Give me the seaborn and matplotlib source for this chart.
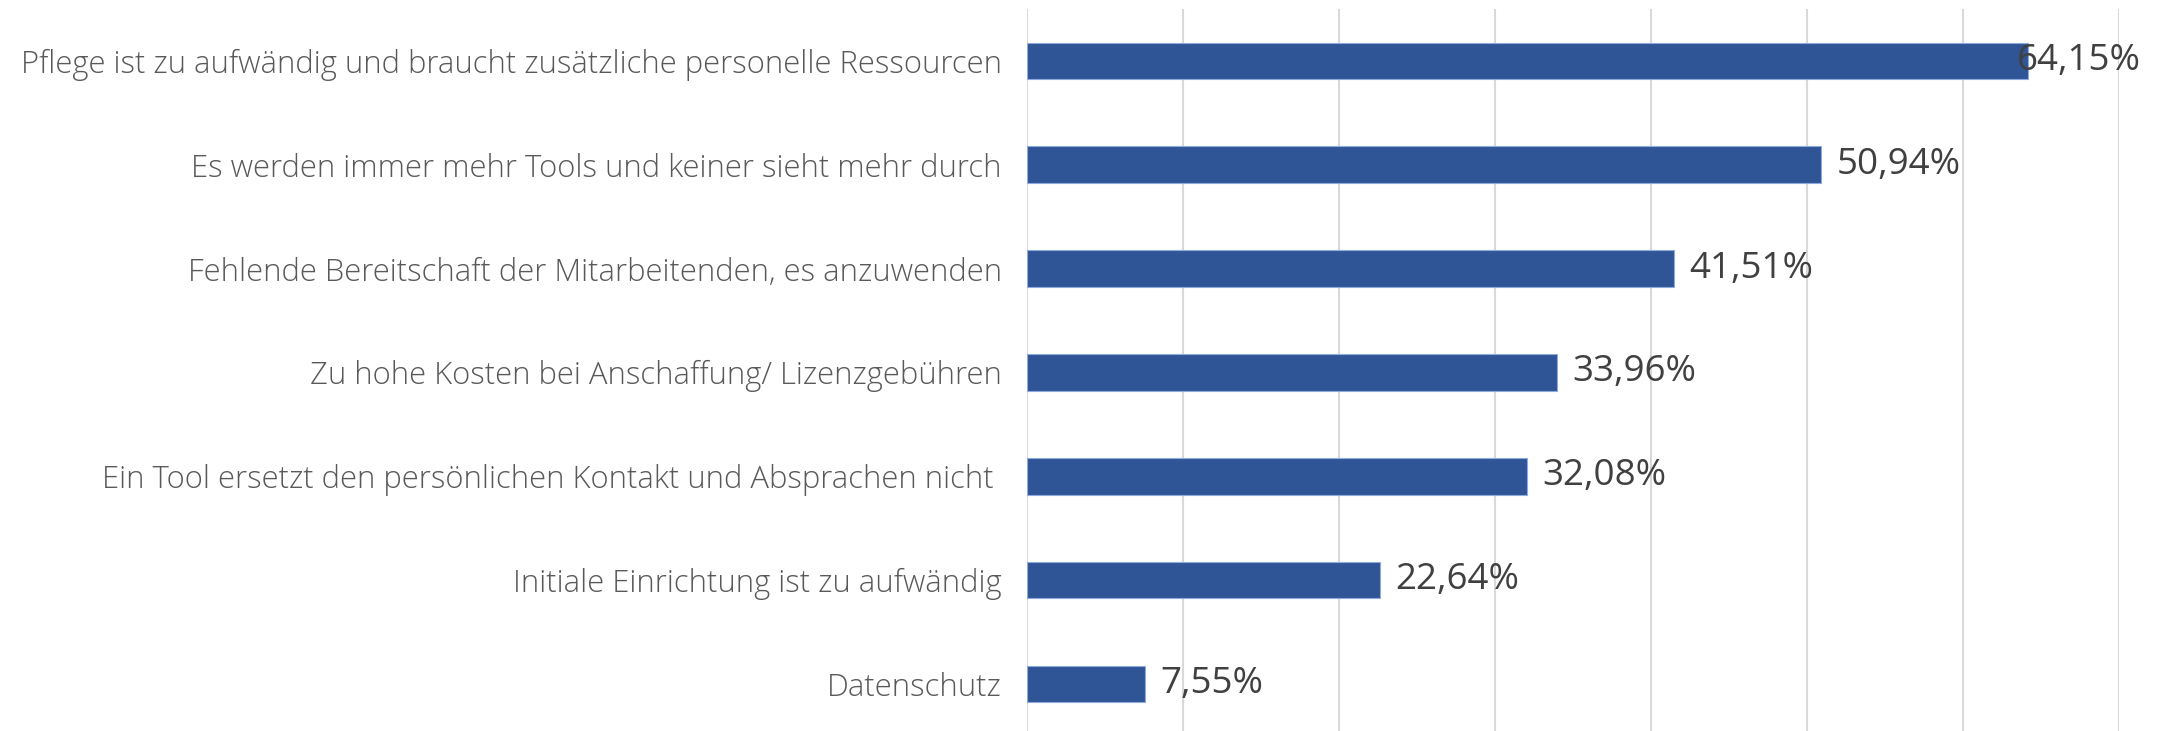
import numpy as np
import seaborn as sns
import pandas as pd
import matplotlib.pyplot as plt

# Daten
gruende = ['Pflege ist zu aufwändig und braucht zusätzliche personelle Ressourcen',
           'Es werden immer mehr Tools und keiner sieht mehr durch',
           'Fehlende Bereitschaft der Mitarbeitenden, es anzuwenden',
           'Zu hohe Kosten bei Anschaffung/ Lizenzgebühren',
           'Ein Tool ersetzt den persönlichen Kontakt und Absprachen nicht ',
           'Initiale Einrichtung ist zu aufwändig',
           'Datenschutz']
anteile = [64.15, 50.94, 41.51, 33.96, 32.08, 22.64, 7.55]
beschriftung = ['64,15%', '50,94%', '41,51%', '33,96%', '32,08%', '22,64%', '7,55%']

df = pd.DataFrame({'Grund': gruende, 'Anteil': anteile})

sns.set_style('white')
plt.rcParams['font.family'] = ['Open Sans', 'DejaVu Sans']

fig = plt.figure(figsize=(21.62, 7.31), dpi=100)
ax = fig.add_axes([0.475, -0.007, 0.505, 0.995])

sns.barplot(data=df, y='Grund', x='Anteil', color='#2F5597', saturation=1, width=0.35,
            edgecolor='#8FAADC', linewidth=0.8, ax=ax)

ax.set_xlim(0, 70)
ax.set_xticks(np.arange(0, 71, 10))
ax.xaxis.grid(True, color='#D9D9D9', linewidth=1.5)
ax.set_axisbelow(True)
ax.set_xticklabels([])
ax.set_xlabel('')
ax.set_ylabel('')
for s in ax.spines.values():
    s.set_visible(False)
ax.tick_params(axis='y', length=0, pad=18, labelsize=22.3, labelcolor='#595959')
ax.tick_params(axis='x', length=0)
for t in ax.get_yticklabels():
    t.set_fontweight('light')

# Werte neben den Balken
versatz = [-8, 11, 11, 11, 11, 11, 11]
for i, bar in enumerate(ax.patches):
    ax.annotate(beschriftung[i], xy=(bar.get_width(), bar.get_y() + bar.get_height() / 2),
                xytext=(versatz[i], 0), textcoords='offset points',
                ha='left', va='center', fontsize=26.5, color='#404040')

fig.savefig('out.png', dpi=100)
